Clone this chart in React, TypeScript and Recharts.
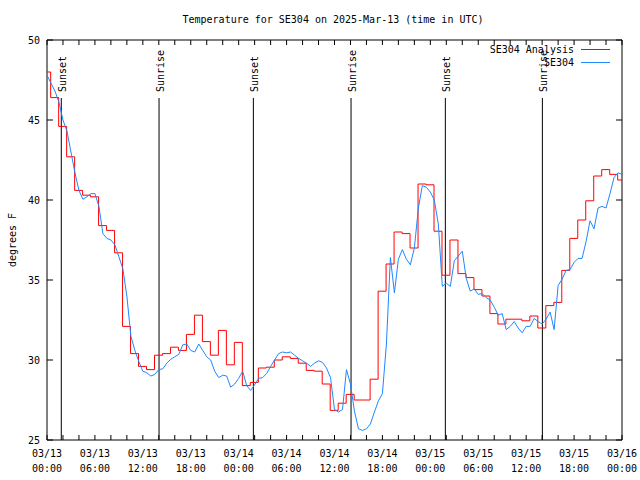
import { LineChart, Line, XAxis, YAxis, ReferenceLine, ReferenceArea, Legend } from 'recharts';

const FONT = '"DejaVu Sans Mono", monospace';
const TITLE = 'Temperature for SE304 on 2025-Mar-13 (time in UTC)';
const START_DAY = 13;

// analysis (hourly, step-wise); step k starts at (k - 0.54) h after 03/13 00:00
const ANALYSIS_SHIFT = 0.54;
const analysisTemps = [
  48.0, 46.4, 44.6, 42.7, 40.6, 40.3, 40.2, 38.4, 38.1, 36.7,
  32.1, 30.4, 29.6, 29.4, 30.3, 30.4, 30.8, 30.6, 31.6, 32.8,
  31.15, 30.3, 31.85, 29.7, 31.1, 28.4, 28.6, 29.5, 29.55, 30.0,
  30.2, 30.1, 29.8, 29.35, 29.3, 28.5, 26.85, 27.3, 27.85, 27.5,
  27.5, 28.8, 34.3, 36.0, 38.0, 37.9, 37.0, 41.0, 40.95, 38.05,
  35.3, 37.5, 35.4, 35.15, 34.4, 34.0, 32.9, 32.25, 32.55, 32.55,
  32.45, 32.75, 32.0, 33.4, 33.6, 35.6, 37.6, 38.75, 39.95, 41.5,
  41.9, 41.6, 41.25,
];

// station obs, every 30 minutes from 03/13 00:00
const OBS_STEP = 0.5;
const observedTemps = [
  47.8, 47.3, 46.8, 46.1, 45.0, 44.3, 43.0, 41.7, 40.6, 40.05,
  40.2, 40.4, 40.4, 39.6, 37.9, 37.6, 37.5, 37.2, 36.45, 35.7,
  34.0, 31.5, 30.6, 29.9, 29.3, 29.2, 29.0, 29.1, 29.4, 29.45,
  29.8, 30.05, 30.2, 30.35, 30.95, 31.0, 30.6, 30.5, 31.0, 30.6,
  30.2, 30.0, 29.3, 28.9, 29.05, 29.0, 28.3, 28.5, 28.85, 29.3,
  28.4, 28.1, 28.45, 28.85, 28.9, 29.15, 29.6, 30.0, 30.4, 30.5,
  30.45, 30.5, 30.3, 30.1, 29.95, 29.8, 29.6, 29.8, 29.95, 29.85,
  29.5, 28.9, 26.9, 26.75, 26.9, 29.4, 28.5, 26.8, 25.7, 25.6,
  25.7, 26.0, 26.75, 27.45, 27.9, 31.0, 36.4, 34.2, 36.3, 36.9,
  36.3, 35.95, 37.0, 39.5, 40.9, 40.8, 40.5, 40.0, 38.5, 34.6,
  34.8, 34.6, 36.2, 36.5, 36.8, 35.1, 34.3, 34.45, 34.1, 34.15,
  33.9, 33.75, 33.3, 32.8, 32.9, 31.9, 32.1, 32.4, 32.0, 31.7,
  32.1, 32.1, 32.6, 32.4, 32.25, 32.55, 33.0, 31.9, 34.65, 35.05,
  35.6, 35.65, 36.1, 36.35, 36.35, 37.4, 38.7, 38.2, 39.5, 39.6,
  39.5, 40.4, 41.4, 41.7, 41.6,
];

const eventNames = ['Sunset', 'Sunrise', 'Sunset', 'Sunrise', 'Sunset', 'Sunrise'];
const eventHours = [1.79, 14.03, 25.84, 38.07, 49.88, 62.03];

const xTicks = Array.from({ length: 37 }, (_, i) => i * 2);
const yTicks = [25, 30, 35, 40, 45, 50];

const ANALYSIS_COLOR = '#ff0000';
const OBS_COLOR = '#1e88ff';
const series = [
  { name: 'SE304 Analysis', color: ANALYSIS_COLOR },
  { name: 'SE304', color: OBS_COLOR },
];

const analysisData = [
  { t: 0, v: analysisTemps[0] },
  ...analysisTemps.slice(1).map((v, i) => ({ t: i + 1 - ANALYSIS_SHIFT, v })),
  { t: 72, v: analysisTemps[analysisTemps.length - 1] },
];
const observedData = observedTemps.map((v, i) => ({ t: i * OBS_STEP, v }));

const pad = (n: number) => String(n).padStart(2, '0');

function XTick({ x, payload }: any) {
  const v = payload.value;
  const day = START_DAY + Math.floor(v / 24);
  const hr = v % 24;
  return (
    <g>
      <line x1={x} x2={x} y1={440} y2={435} stroke="#000" />
      <line x1={x} x2={x} y1={40} y2={45} stroke="#000" />
      {v % 6 === 0 && (
        <text x={x} textAnchor="middle" fontSize={10} fontFamily={FONT} fill="#000">
          <tspan x={x} y={457}>{`03/${pad(day)}`}</tspan>
          <tspan x={x} y={472}>{`${pad(hr)}:00`}</tspan>
        </text>
      )}
    </g>
  );
}

function YTick({ y, payload }: any) {
  return (
    <g>
      <line x1={47} x2={53} y1={y} y2={y} stroke="#000" />
      <line x1={616} x2={622} y1={y} y2={y} stroke="#000" />
      <text x={40} y={y + 3.5} textAnchor="end" fontSize={10} fontFamily={FONT} fill="#000">
        {payload.value}
      </text>
    </g>
  );
}

function LegendBox() {
  return (
    <svg width={150} height={30} style={{ display: 'block' }}>
      {series.map((s, i) => (
        <g key={s.name}>
          <text x={94} y={13 + i * 13} textAnchor="end" fontSize={10} fontFamily={FONT} fill="#000">
            {s.name}
          </text>
          <path d={`M101 ${9.5 + i * 13}H130`} style={{ stroke: s.color, strokeWidth: 1, fill: 'none' }} />
        </g>
      ))}
    </svg>
  );
}

const eventShape = (name: string) => (props: any) => {
  const x = props.x1;
  const bottom = Math.max(props.y1, props.y2);
  return (
    <g>
      <line x1={x} x2={x} y1={98} y2={bottom} stroke="#000" strokeWidth={1} />
      <text
        x={x + 5}
        y={92}
        transform={`rotate(-90, ${x + 5}, 92)`}
        fontSize={10}
        fontFamily={FONT}
        fill="#000"
      >
        {name}
      </text>
    </g>
  );
};

export default function App() {
  return (
    <div style={{ position: 'absolute', left: 0, top: 0, width: 640, height: 480, background: '#fff' }}>
      <svg width={640} height={30} style={{ position: 'absolute', left: 0, top: 0 }}>
        <text x={333} y={23} textAnchor="middle" fontSize={10} fontFamily={FONT} fill="#000">
          {TITLE}
        </text>
      </svg>
      <LineChart width={640} height={480} margin={{ top: 40, right: 18, bottom: 0, left: 0 }}>
        <XAxis
          dataKey="t"
          type="number"
          domain={[0, 72]}
          allowDataOverflow
          ticks={xTicks}
          interval={0}
          height={40}
          axisLine={false}
          tickLine={false}
          tick={<XTick />}
        />
        <YAxis
          type="number"
          domain={[25, 50]}
          allowDataOverflow
          ticks={yTicks}
          interval={0}
          width={47}
          axisLine={false}
          tickLine={false}
          tick={<YTick />}
          label={() => (
            <text
              x={12}
              y={240}
              transform="rotate(-90, 12, 240)"
              textAnchor="middle"
              dominantBaseline="central"
              fontSize={10}
              fontFamily={FONT}
              fill="#000"
            >
              degrees F
            </text>
          )}
        />
        {eventHours.map((h, i) => (
          <ReferenceLine key={i} x={h} stroke="#000" shape={eventShape(eventNames[i])} />
        ))}
        <Line
          data={analysisData}
          dataKey="v"
          name={series[0].name}
          type="stepAfter"
          stroke={ANALYSIS_COLOR}
          strokeWidth={1}
          dot={false}
          isAnimationActive={false}
        />
        <Line
          data={observedData}
          dataKey="v"
          name={series[1].name}
          type="linear"
          stroke={OBS_COLOR}
          strokeWidth={1}
          dot={false}
          isAnimationActive={false}
        />
        <ReferenceArea x1={0} x2={72} y1={25} y2={50} fill="none" stroke="#000" strokeWidth={1} />
        <Legend
          layout="horizontal"
          verticalAlign="middle"
          align="center"
          wrapperStyle={{ top: 40, left: 480, width: 150, height: 30 }}
          content={() => <LegendBox />}
        />
      </LineChart>
    </div>
  );
}
